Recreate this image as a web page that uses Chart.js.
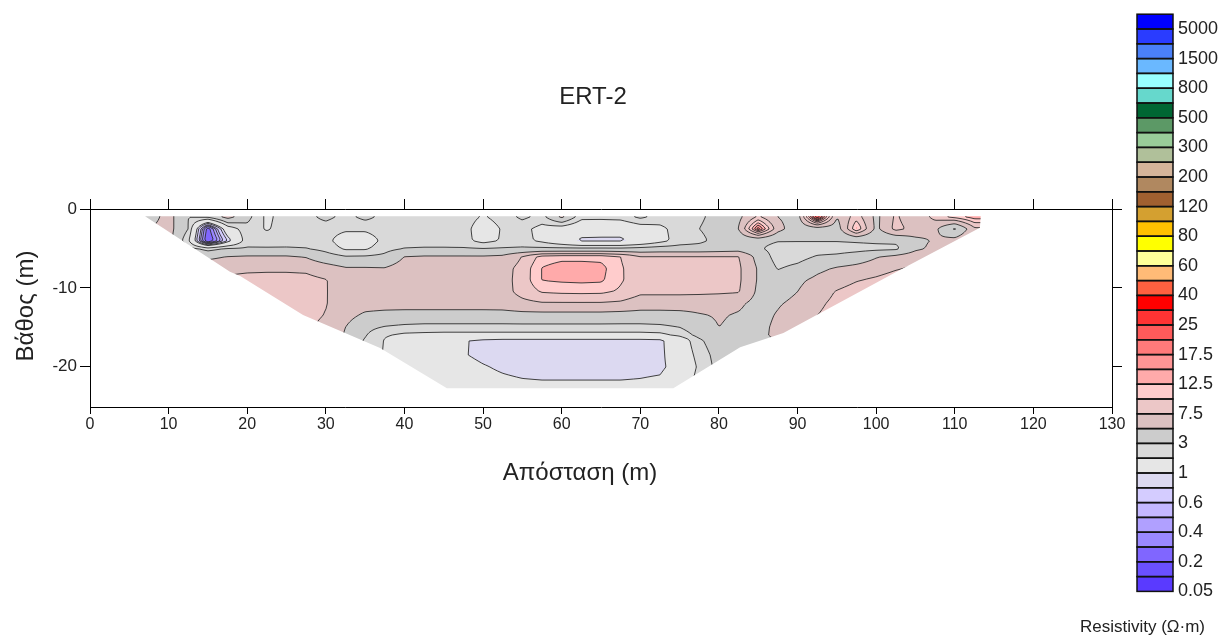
<!DOCTYPE html>
<html>
<head>
<meta charset="utf-8">
<title>ERT-2</title>
<script src="https://cdn.jsdelivr.net/npm/chart.js@4.4.1/dist/chart.umd.min.js"></script>
<style>
  html, body { margin: 0; padding: 0; background: #ffffff; }
  #frame { position: relative; width: 1225px; height: 641px; }
</style>
</head>
<body>
<div id="frame"><canvas id="ert" width="1225" height="641"></canvas></div>
<script>
// Distance of the model nodes along the line (m)
const distances = [5, 7.5, 10, 12.5, 15, 17.5, 20, 22.5, 25, 27.5,
                   30, 32.5, 35, 37.5, 40, 42.5, 45, 47.5, 50, 52.5,
                   55, 57.5, 60, 62.5, 65, 67.5, 70, 72.5, 75, 77.5,
                   80, 82.5, 85, 87.5, 90, 92.5, 95, 97.5, 100, 102.5,
                   105, 107.5, 110, 112.5, 115];

// Depth of the model node rows (m, negative downwards)
const depths = [-1, -2.5, -4, -5, -6, -7.5, -9, -10.5, -12, -13.5, -15, -16, -16.6, -18.5, -20, -22, -24];

// Inverted resistivity (Ω·m), one row per depth, one value per distance
const resistivity = [
  [4, 4, 6, 3, 3.3, 6, 3.5, 1.8, 2.5, 2.6,  3.4, 2.6, 3.4, 2.6, 2.5, 2.5, 2.7, 2.5, 1.9, 2.4,  3.3, 2.6, 5.5, 2.3, 2.3, 2.4, 3.3, 2.5, 2.6, 2.8,  3.5, 4.5, 8, 5, 4, 30, 5, 9, 4.5, 8,  5.5, 8.5, 11, 14, 14],
  [4.5, 5, 6, 3, 0.25, 1.5, 2.6, 1.9, 2.5, 2.5,  2.4, 2.2, 2.2, 2.5, 2.6, 2.6, 2.6, 2.4, 1.5, 2.1,  2.3, 1.7, 1.5, 1.25, 1.2, 1.2, 1.5, 1.8, 2.4, 3.0,  3.6, 5, 20, 6, 3.6, 4, 4, 13, 4.5, 8.5,  6.5, 5.5, 2.8, 7, 7],
  [5, 5.5, 6, 2.2, 0.2, 0.8, 2.6, 2.5, 2.6, 2.6,  2.3, 1.5, 1.5, 2.3, 2.5, 2.5, 2.5, 2.3, 1.7, 2.1,  2.3, 1.8, 1.3, 0.93, 0.93, 0.93, 1.2, 1.7, 2.4, 2.7,  3.5, 3.6, 3.5, 3.1, 3.1, 3.1, 3.1, 3.2, 3.3, 3.3,  4.5, 5.2, 6, 8, 8],
  [5.5, 6, 6, 3.5, 2.5, 3.1, 3.1, 3.1, 3.1, 3.0,  2.6, 1.85, 1.85, 2.6, 3.0, 3.1, 3.1, 3.1, 3.0, 3.1,  3.2, 3.2, 3.2, 3.2, 3.2, 3.2, 3.4, 3.6, 3.6, 3.6,  3.8, 4.0, 3.2, 2.5, 2.4, 2.4, 2.4, 2.5, 2.6, 2.7,  4.5, 5.6, 6.5, 8, 8],
  [6, 6, 6, 5.5, 4.5, 5.0, 5.2, 5.2, 5.2, 4.8,  3.6, 3.05, 3.1, 3.3, 5.0, 5.2, 5.2, 5.2, 5.2, 5.4,  7.6, 11, 11.5, 11.5, 11.5, 10, 7.6, 7.6, 7.6, 7.6,  7.6, 7.6, 4.3, 2.4, 2.5, 3.1, 3.3, 3.8, 4.8, 5.5,  6.5, 7, 7.5, 8, 8],
  [6, 6, 6.5, 6.5, 6.5, 6.8, 7.0, 7.1, 7.1, 7.0,  6.2, 5.2, 5.2, 5.1, 6.2, 6.3, 6.3, 6.3, 6.3, 6.5,  8.5, 12.6, 14, 14, 13.5, 10.3, 8.5, 8.5, 8.5, 8.5,  8.3, 8.0, 4.8, 2.9, 3.4, 4.5, 5.2, 5.7, 6.3, 7.2,  8, 8, 8, 8, 8],
  [6, 6.5, 7, 7.5, 7.8, 8, 8.3, 8.3, 8.3, 8.2,  7.6, 6.4, 6.0, 6.2, 6.5, 6.5, 6.5, 6.5, 6.5, 6.6,  8.6, 12.6, 13, 13.2, 13, 10.3, 8.6, 8.6, 8.6, 8.6,  8.4, 8.0, 4.8, 3.8, 4.6, 5.5, 6.3, 7.3, 8, 9,  9, 9, 9, 9, 9],
  [6.5, 7, 7.5, 8, 8.2, 8.4, 8.5, 8.5, 8.5, 8.3,  7.6, 6.5, 6.2, 6.3, 6.5, 6.5, 6.5, 6.5, 6.5, 6.6,  8.4, 10.2, 10.5, 10.6, 10.5, 9.6, 8.0, 8.0, 8.0, 8.0,  7.9, 7.7, 4.6, 4.2, 5.0, 6.3, 7.7, 8.8, 9.5, 9.5,  9.5, 9.5, 9.5, 9.5, 9.5],
  [7, 7.5, 8, 8, 8.2, 8.4, 8.5, 8.5, 8.4, 8.2,  7.6, 6.4, 6.0, 6.0, 6.0, 6.0, 6.0, 6.0, 6.0, 6.1,  6.8, 7.2, 7.2, 7.2, 7.2, 7.0, 6.2, 6.2, 6.2, 6.0,  5.8, 5.4, 4.3, 4.8, 5.6, 7.0, 8.2, 9, 9, 9,  9, 9, 9, 9, 9],
  [7.5, 7.5, 7.5, 7.5, 7.5, 7.5, 7.8, 8, 8.2, 8.1,  7.4, 5.8, 4.6, 4.3, 4.2, 4.2, 4.2, 4.2, 4.2, 4.2,  4.3, 4.3, 4.3, 4.3, 4.3, 4.2, 4.2, 4.2, 4.3, 4.8,  5.2, 4.8, 4.3, 5.2, 6.5, 7.5, 8.5, 9, 9, 9,  9, 9, 9, 9, 9],
  [7.8, 7.8, 7.8, 7.8, 7.8, 7.8, 7.8, 7.8, 7.8, 7.8,  7.0, 5.0, 3.4, 2.9, 2.7, 2.6, 2.6, 2.6, 2.6, 2.6,  2.6, 2.6, 2.6, 2.6, 2.6, 2.6, 2.6, 2.7, 3.0, 4.2,  5.0, 4.6, 4.4, 5.5, 7, 8, 9, 9, 9, 9,  9, 9, 9, 9, 9],
  [7, 7, 7, 7, 7, 7, 7, 7, 7, 7,  6.5, 4.8, 3.1, 2.1, 1.8, 1.75, 1.7, 1.7, 1.7, 1.7,  1.7, 1.7, 1.7, 1.7, 1.7, 1.7, 1.7, 1.75, 2.2, 3.5,  4.7, 4.4, 4.5, 5.5, 7, 7, 7, 7, 7, 7,  7, 7, 7, 7, 7],
  [4, 4, 4, 4, 4, 4, 4, 4, 4, 4,  4, 4, 2.9, 1.95, 1.5, 1.35, 1.2, 1.03, 0.93, 0.9,  0.9, 0.9, 0.9, 0.9, 0.9, 0.9, 0.9, 0.92, 1.4, 2.8,  4.0, 4.2, 4.5, 5, 5, 5, 5, 5, 5, 5,  5, 5, 5, 5, 5],
  [3, 3, 3, 3, 3, 3, 3, 3, 3, 3,  3, 3, 2.8, 1.9, 1.4, 1.3, 1.15, 1.02, 0.94, 0.9,  0.9, 0.9, 0.9, 0.9, 0.9, 0.9, 0.9, 0.92, 1.3, 2.4,  3.6, 4.0, 4.5, 5, 5, 5, 5, 5, 5, 5,  5, 5, 5, 5, 5],
  [2, 2, 2, 2, 2, 2, 2, 2, 2, 2,  2, 2, 2, 1.8, 1.4, 1.25, 1.15, 1.1, 1.02, 0.96,  0.92, 0.9, 0.9, 0.9, 0.9, 0.9, 0.92, 0.94, 1.15, 2.2,  3.5, 3.5, 3.5, 3.5, 3.5, 3.5, 3.5, 3.5, 3.5, 3.5,  3.5, 3.5, 3.5, 3.5, 3.5],
  [1.5, 1.5, 1.5, 1.5, 1.5, 1.5, 1.5, 1.5, 1.5, 1.5,  1.5, 1.5, 1.5, 1.5, 1.5, 1.3, 1.2, 1.12, 1.1, 1.06,  1.03, 1.02, 1.02, 1.02, 1.02, 1.02, 1.03, 1.06, 1.3, 2.5,  2.5, 2.5, 2.5, 2.5, 2.5, 2.5, 2.5, 2.5, 2.5, 2.5,  2.5, 2.5, 2.5, 2.5, 2.5],
  [1.3, 1.3, 1.3, 1.3, 1.3, 1.3, 1.3, 1.3, 1.3, 1.3,  1.3, 1.3, 1.3, 1.3, 1.3, 1.3, 1.3, 1.15, 1.1, 1.08,  1.05, 1.05, 1.05, 1.05, 1.05, 1.05, 1.05, 1.08, 1.3, 2.5,  2.5, 2.5, 2.5, 2.5, 2.5, 2.5, 2.5, 2.5, 2.5, 2.5,  2.5, 2.5, 2.5, 2.5, 2.5]
];

// Outline of the section reached by the measurements (distance m, depth m)
const coverageDistance = [7.0, 17.8, 19.1, 27.1, 36.9, 45.4, 74.2, 82.7, 88.2, 102.6, 113.2, 113.3];
const coverageDepth    = [-0.92, -7.97, -8.48, -13.44, -17.63, -22.72, -22.72, -17.51, -15.73, -7.97, -2.38, -0.92];

// Contour levels (Ω·m) and the fill of each band between two neighbouring levels
const levels = [0.05, 0.1, 0.2, 0.3, 0.4, 0.5, 0.6, 0.8, 1, 2, 3, 5, 7.5, 10, 12.5, 15, 17.5, 20, 25, 30,
                40, 50, 60, 70, 80, 100, 120, 150, 200, 250, 300, 400, 500, 600, 800, 1000, 1500, 3000, 5000, 10000];
const bandColors = ['#5a3aff', '#6a50ff', '#8066ff', '#9a88ff', '#b0a0ff', '#c4b8ff', '#d4ccff', '#dcd9f1',
                    '#e6e6e6', '#d9d9d9', '#cccccc', '#dcc1c1', '#ecc7c7', '#ffcccc', '#ffaaaa', '#ff9595',
                    '#ff7a7a', '#ff5a5a', '#ff3333', '#ff0000', '#ff6040', '#ffbb77', '#ffff99', '#ffff00',
                    '#ffc000', '#d4a030', '#a06030', '#b08860', '#d4b49a', '#b0c09a', '#99cc99', '#5c9966',
                    '#006633', '#66d8cc', '#99ffff', '#6ab8ff', '#4a80f8', '#2a3cff', '#0000ff'];
// Levels written beside the colour scale
const scaleLabelLevels = [0.05, 0.2, 0.4, 0.6, 1, 3, 7.5, 12.5, 17.5, 25, 40, 60, 80, 120, 200, 300, 500, 800, 1500, 5000];

const distanceTicks = [0, 10, 20, 30, 40, 50, 60, 70, 80, 90, 100, 110, 120, 130];
const depthTicks = [0, -10, -20];

const chartTitle = 'ERT-2';
const distanceTitle = 'Απόσταση (m)';
const depthTitle = 'Βάθος (m)';
const scaleTitle = 'Resistivity (Ω·m)';

const FONT = "'Liberation Sans', Arial, Helvetica, sans-serif";

// ---- field sampling helpers -------------------------------------------------
const logGrid = resistivity.map(row => row.map(v => Math.log10(v)));
const logLevels = levels.map(v => Math.log10(v));

function bracket(arr, v) {
  const n = arr.length;
  const asc = arr[n - 1] > arr[0];
  if (asc ? v <= arr[0] : v >= arr[0]) return [0, 0];
  if (asc ? v >= arr[n - 1] : v <= arr[n - 1]) return [n - 2, 1];
  for (let i = 0; i < n - 1; i++) {
    const a = arr[i], b = arr[i + 1];
    if ((v - a) * (v - b) <= 0) return [i, (v - a) / (b - a)];
  }
  return [n - 2, 1];
}

function logAt(bx, by) {
  const [i, tx] = bx, [j, ty] = by;
  const r0 = logGrid[j], r1 = logGrid[j + 1];
  const a = r0[i] + (r0[i + 1] - r0[i]) * tx;
  const b = r1[i] + (r1[i + 1] - r1[i]) * tx;
  return a + (b - a) * ty;
}

function bandOf(lv) {
  for (let k = 0; k < logLevels.length - 1; k++) if (lv < logLevels[k + 1]) return k;
  return logLevels.length - 2;
}

function hexRgb(h) {
  return [parseInt(h.slice(1, 3), 16), parseInt(h.slice(3, 5), 16), parseInt(h.slice(5, 7), 16)];
}
const bandRgb = bandColors.map(hexRgb);

function coveragePath(ctx, xs, ys) {
  ctx.beginPath();
  coverageDistance.forEach((x, k) => {
    const px = xs.getPixelForValue(x), py = ys.getPixelForValue(coverageDepth[k]);
    if (k === 0) ctx.moveTo(px, py); else ctx.lineTo(px, py);
  });
  ctx.closePath();
}

// ---- filled contour section -------------------------------------------------
const sectionPlugin = {
  id: 'resistivitySection',
  beforeDatasetsDraw(chart) {
    const { ctx, chartArea, scales } = chart;
    const xs = scales.x, ys = scales.y;
    const left = Math.floor(chartArea.left), top = Math.floor(chartArea.top);
    const w = Math.ceil(chartArea.right) - left, h = Math.ceil(chartArea.bottom) - top;

    const colB = [], rowB = [];
    for (let i = 0; i < w; i++) colB.push(bracket(distances, xs.getValueForPixel(left + i + 0.5)));
    for (let j = 0; j < h; j++) rowB.push(bracket(depths, ys.getValueForPixel(top + j + 0.5)));

    const off = document.createElement('canvas');
    off.width = w; off.height = h;
    const octx = off.getContext('2d');
    const img = octx.createImageData(w, h);
    for (let j = 0; j < h; j++) {
      for (let i = 0; i < w; i++) {
        const c = bandRgb[bandOf(logAt(colB[i], rowB[j]))];
        const p = (j * w + i) * 4;
        img.data[p] = c[0]; img.data[p + 1] = c[1]; img.data[p + 2] = c[2]; img.data[p + 3] = 255;
      }
    }
    octx.putImageData(img, 0, 0);

    ctx.save();
    coveragePath(ctx, xs, ys);
    ctx.clip();
    ctx.drawImage(off, left, top);

    // contour lines by marching squares on a 2 px lattice
    const step = 2;
    const nx = Math.floor(w / step) + 1, ny = Math.floor(h / step) + 1;
    const gx = [], gy = [], G = [];
    for (let i = 0; i < nx; i++) gx.push(left + i * step);
    for (let j = 0; j < ny; j++) gy.push(top + j * step);
    const bxs = gx.map(px => bracket(distances, xs.getValueForPixel(px)));
    const bys = gy.map(py => bracket(depths, ys.getValueForPixel(py)));
    for (let j = 0; j < ny; j++) {
      const row = new Float64Array(nx);
      for (let i = 0; i < nx; i++) row[i] = logAt(bxs[i], bys[j]);
      G.push(row);
    }
    ctx.beginPath();
    for (let j = 0; j < ny - 1; j++) {
      for (let i = 0; i < nx - 1; i++) {
        const v00 = G[j][i], v10 = G[j][i + 1], v01 = G[j + 1][i], v11 = G[j + 1][i + 1];
        const lo = Math.min(v00, v10, v01, v11), hi = Math.max(v00, v10, v01, v11);
        for (let k = 1; k < logLevels.length - 1; k++) {
          const L = logLevels[k];
          if (L <= lo || L > hi) continue;
          const pts = [];
          const x0 = gx[i], x1 = gx[i + 1], y0 = gy[j], y1 = gy[j + 1];
          if ((v00 - L) * (v10 - L) < 0) pts.push([x0 + (x1 - x0) * (L - v00) / (v10 - v00), y0]);
          if ((v10 - L) * (v11 - L) < 0) pts.push([x1, y0 + (y1 - y0) * (L - v10) / (v11 - v10)]);
          if ((v01 - L) * (v11 - L) < 0) pts.push([x0 + (x1 - x0) * (L - v01) / (v11 - v01), y1]);
          if ((v00 - L) * (v01 - L) < 0) pts.push([x0, y0 + (y1 - y0) * (L - v00) / (v01 - v00)]);
          for (let s = 0; s + 1 < pts.length; s += 2) {
            ctx.moveTo(pts[s][0], pts[s][1]);
            ctx.lineTo(pts[s + 1][0], pts[s + 1][1]);
          }
        }
      }
    }
    ctx.strokeStyle = 'rgba(45,45,45,0.9)';
    ctx.lineWidth = 1;
    ctx.stroke();
    ctx.restore();
  }
};

// ---- titles and colour scale -----------------------------------------------
const decorPlugin = {
  id: 'sectionDecor',
  afterDraw(chart) {
    const { ctx } = chart;
    ctx.save();
    ctx.fillStyle = '#222';
    ctx.textBaseline = 'middle';
    ctx.textAlign = 'center';
    ctx.font = `24px ${FONT}`;
    ctx.fillText(chartTitle, 593, 97);
    ctx.font = `24px ${FONT}`;
    ctx.fillText(distanceTitle, 580, 473);
    ctx.save();
    ctx.translate(26, 306);
    ctx.rotate(-Math.PI / 2);
    ctx.fillText(depthTitle, 0, 0);
    ctx.restore();

    // colour scale: one box per band, lowest band at the bottom
    const bx = 1137, bw = 36, yBottom = 591.4, bh = 14.8;
    for (let k = 0; k < bandColors.length; k++) {
      ctx.fillStyle = bandColors[k];
      ctx.fillRect(bx, yBottom - (k + 1) * bh, bw, bh);
    }
    ctx.strokeStyle = '#111';
    ctx.lineWidth = 1.5;
    for (let k = 0; k < bandColors.length; k++) {
      ctx.strokeRect(bx, yBottom - (k + 1) * bh, bw, bh);
    }
    ctx.fillStyle = '#222';
    ctx.textAlign = 'left';
    ctx.font = `18px ${FONT}`;
    scaleLabelLevels.forEach(v => {
      const k = levels.indexOf(v);
      ctx.fillText(String(v), bx + bw + 5, yBottom - k * bh);
    });
    ctx.font = `17px ${FONT}`;
    ctx.textAlign = 'right';
    ctx.fillText(scaleTitle, 1205, 627);
    ctx.restore();
  }
};

function fixedTicks(values) {
  return scale => { scale.ticks = values.map(v => ({ value: v })); };
}
const tickFont = { family: FONT, size: 16 };
const frameGrid = (len) => ({ drawOnChartArea: false, drawTicks: true, tickLength: len, color: '#000', tickColor: '#000', lineWidth: 1 });
const frameBorder = { display: true, color: '#000', width: 1 };

const nodePoints = [];
depths.forEach((d, j) => distances.forEach((x, i) => nodePoints.push({ x: x, y: d, r: resistivity[j][i] })));

new Chart(document.getElementById('ert'), {
  type: 'scatter',
  data: { datasets: [{ label: 'model nodes', data: nodePoints, pointRadius: 0, pointHoverRadius: 0 }] },
  options: {
    responsive: false,
    animation: false,
    devicePixelRatio: 1,
    layout: { padding: 0 },
    plugins: { legend: { display: false }, tooltip: { enabled: false }, title: { display: false } },
    events: [],
    scales: {
      x: {
        type: 'linear', position: 'bottom', min: 0, max: 130,
        afterBuildTicks: fixedTicks(distanceTicks),
        afterFit: s => { s.height = 234; },
        grid: frameGrid(7), border: frameBorder,
        ticks: { color: '#222', font: tickFont, padding: 1, maxRotation: 0, autoSkip: false, callback: v => String(v) }
      },
      xTop: {
        type: 'linear', position: 'top', min: 0, max: 130,
        afterBuildTicks: fixedTicks(distanceTicks),
        afterFit: s => { s.height = 209; },
        grid: frameGrid(10), border: frameBorder,
        ticks: { color: 'rgba(0,0,0,0)', font: tickFont, maxRotation: 0, autoSkip: false }
      },
      y: {
        type: 'linear', position: 'left', min: -25.1, max: 0,
        afterBuildTicks: fixedTicks(depthTicks),
        afterFit: s => { s.width = 90; },
        grid: frameGrid(10), border: frameBorder,
        ticks: { color: '#222', font: { family: FONT, size: 17 }, padding: 3, autoSkip: false, callback: v => String(v) }
      },
      yRight: {
        type: 'linear', position: 'right', min: -25.1, max: 0,
        afterBuildTicks: fixedTicks(depthTicks),
        afterFit: s => { s.width = 113; },
        grid: frameGrid(10), border: frameBorder,
        ticks: { color: 'rgba(0,0,0,0)', font: tickFont, autoSkip: false }
      }
    }
  },
  plugins: [sectionPlugin, decorPlugin]
});
</script>
</body>
</html>
